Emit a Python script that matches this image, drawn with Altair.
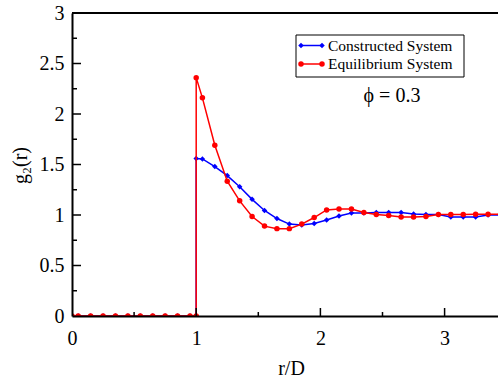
import altair as alt
import pandas as pd

# ---- data ----
r_zero = [0, 0.05, 0.15, 0.25, 0.35, 0.45, 0.55, 0.65, 0.75, 0.85, 0.95, 1.0]
r_tail = [1.0, 1.05, 1.15, 1.25, 1.35, 1.45, 1.55, 1.65, 1.75, 1.85, 1.95, 2.05,
          2.15, 2.25, 2.35, 2.45, 2.55, 2.65, 2.75, 2.85, 2.95, 3.05, 3.15,
          3.25, 3.35, 3.45]
constructed_tail = [1.56, 1.555, 1.48, 1.39, 1.28, 1.155, 1.045, 0.965, 0.91,
                    0.90, 0.915, 0.95, 0.99, 1.02, 1.02, 1.025, 1.025, 1.025,
                    1.01, 1.005, 1.005, 0.98, 0.98, 0.98, 1.0, 1.0]
equilibrium_tail = [2.36, 2.16, 1.69, 1.335, 1.14, 0.985, 0.89, 0.865, 0.865,
                    0.91, 0.975, 1.05, 1.06, 1.06, 1.025, 1.005, 0.995, 0.98,
                    0.98, 0.985, 1.005, 1.005, 1.005, 1.008, 1.008, 1.008]
series_names = ["Constructed System", "Equilibrium System"]
series_colors = ["#0000ff", "#ff0000"]
series_shapes = ["diamond", "circle"]
x_ticks_major = [1, 2, 3]
x_ticks_minor = [0.5, 1.5, 2.5]
y_ticks_major = [0.5, 1, 1.5, 2, 2.5]
y_ticks_minor = [0.25, 0.75, 1.25, 1.75, 2.25, 2.75]
annotation = "\u03d5 = 0.3"

FONT = "Liberation Serif"

rows = []
for name, tail in zip(series_names, [constructed_tail, equilibrium_tail]):
    xs = r_zero + r_tail
    ys = [0.0] * len(r_zero) + tail
    for i, (x, y) in enumerate(zip(xs, ys)):
        rows.append({"series": name, "r": x, "g": y, "idx": i})
df = pd.DataFrame(rows)

xscale = alt.Scale(domain=[0, 3.43], nice=False, zero=False)
yscale = alt.Scale(domain=[0, 3], nice=False)

W, H = 426, 303

base_layers = []
for name, color, shape in zip(series_names, series_colors, series_shapes):
    sub = df[df.series == name]
    line = alt.Chart(sub).mark_line(color=color, strokeWidth=1.5, clip=True).encode(
        x=alt.X("r:Q", scale=xscale,
                axis=alt.Axis(values=[0, 1, 2, 3], format="d", ticks=False, grid=False,
                              domainColor="black", domainWidth=2, zindex=1, labelFlush=False,
                              labelFont=FONT, labelFontSize=20, labelColor="black",
                              labelPadding=12, title="r/D", titleFont=FONT,
                              titleFontSize=20, titleFontWeight="normal", titleColor="black",
                              titleX=219, titleY=58, titleBaseline="alphabetic")),
        y=alt.Y("g:Q", scale=yscale,
                axis=alt.Axis(values=[0, 0.5, 1, 1.5, 2, 2.5, 3], format="~g", ticks=False,
                              grid=False, domainColor="black", domainWidth=2, zindex=1,
                              labelFlush=False,
                              labelFont=FONT, labelFontSize=20, labelColor="black",
                              labelPadding=8, title="g\u2082(r)", titleFont=FONT,
                              titleFontSize=20, titleFontWeight="normal", titleColor="black",
                              titleX=-42, titleY=152, titleBaseline="bottom")),
        order=alt.Order("idx:Q"),
    )
    pts = alt.Chart(sub).mark_point(shape=shape, filled=True, color=color, size=30,
                                    opacity=1, clip=True).encode(
        x=alt.X("r:Q", scale=xscale), y=alt.Y("g:Q", scale=yscale))
    base_layers += [line, pts]

xt_major = alt.Chart(pd.DataFrame({"t": x_ticks_major})).mark_rule(color="black", strokeWidth=1.5).encode(
    x=alt.X("t:Q", scale=xscale), y=alt.value(H), y2=alt.value(H - 8))
xt_minor = alt.Chart(pd.DataFrame({"t": x_ticks_minor})).mark_rule(color="black", strokeWidth=1.5).encode(
    x=alt.X("t:Q", scale=xscale), y=alt.value(H), y2=alt.value(H - 4))
yt_major = alt.Chart(pd.DataFrame({"t": y_ticks_major})).mark_rule(color="black", strokeWidth=1.5).encode(
    y=alt.Y("t:Q", scale=yscale), x=alt.value(0), x2=alt.value(9))
yt_minor = alt.Chart(pd.DataFrame({"t": y_ticks_minor})).mark_rule(color="black", strokeWidth=1.5).encode(
    y=alt.Y("t:Q", scale=yscale), x=alt.value(0), x2=alt.value(5))
top_border = alt.Chart(pd.DataFrame({"t": [3]})).mark_rule(color="black", strokeWidth=2).encode(
    y=alt.Y("t:Q", scale=yscale), x=alt.value(0), x2=alt.value(W))

# legend (decoration)
leg_box = alt.Chart(pd.DataFrame({"a": [0]})).mark_rect(fill="white", stroke="black", strokeWidth=1).encode(
    x=alt.value(224), x2=alt.value(392), y=alt.value(22), y2=alt.value(64))
leg_layers = [leg_box]
for i, (name, color, shape) in enumerate(zip(series_names, series_colors, series_shapes)):
    yy = 32.5 + i * 18.5
    d = pd.DataFrame({"name": [name]})
    leg_layers.append(alt.Chart(d).mark_rule(color=color, strokeWidth=1.5).encode(
        x=alt.value(229), x2=alt.value(250), y=alt.value(yy)))
    for px in [229, 250]:
        leg_layers.append(alt.Chart(d).mark_point(shape=shape, filled=True, color=color, size=30, opacity=1).encode(
            x=alt.value(px), y=alt.value(yy)))
    leg_layers.append(alt.Chart(d).mark_text(align="left", baseline="middle", font=FONT, fontSize=15.5,
                                             color="black").encode(
        x=alt.value(256), y=alt.value(yy), text="name:N"))

phi = alt.Chart(pd.DataFrame({"t": [annotation]})).mark_text(
    align="center", baseline="alphabetic", font=FONT, fontSize=20, color="black").encode(
    x=alt.value(320), y=alt.value(88.5), text="t:N")

chart = alt.layer(*base_layers, xt_major, xt_minor, yt_major, yt_minor, top_border,
                  *leg_layers, phi).properties(
    width=W, height=H,
    autosize=alt.AutoSizeParams(type="none"),
    padding={"left": 72, "top": 13, "right": 0, "bottom": 62},
).configure_view(stroke=None).configure(background="white")

chart.save("out.html", embed_options={"renderer": "svg", "actions": False})
